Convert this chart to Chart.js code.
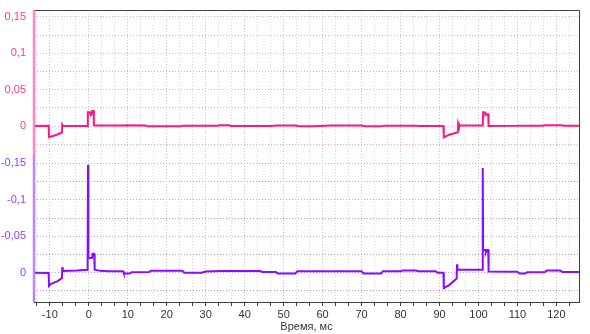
<!DOCTYPE html>
<html>
<head>
<meta charset="utf-8">
<script src="https://cdn.jsdelivr.net/npm/chart.js@4.4.0/dist/chart.umd.min.js"></script>
<style>
    html, body { margin: 0; padding: 0; background: #fff; }
    #wrap { width: 590px; height: 334px; }
</style>
</head>
<body>
<div id="wrap"><canvas id="chart"></canvas></div>
<script>
// Time axis (ms) and values
const pinkTime = [-14, -10.3, -10.2, -9.6, -8.2, -6.9, -6.8, -6.6, -3, -0.3, -0.25, 0.3, 0.5, 0.7, 0.9, 1.25, 1.3, 2, 9, 9.5, 14.5, 15, 23.5, 24, 33, 33.5, 36, 36.5, 47, 48, 53, 54, 58, 62, 70, 71, 75, 76, 84, 85, 91.0, 91.1, 92.5, 94.7, 94.8, 95.0, 101.1, 101.2, 101.7, 101.8, 102.1, 102.5, 102.6, 110, 111, 116.5, 117, 121, 122, 125.8];
const pinkValue = [0, 0.0003, -0.0155, -0.0145, -0.012, -0.009, 0.002, 0.0003, 0, 0, 0.019, 0.019, 0.015, 0.016, 0.021, 0.021, 0.001, 0.0008, 0.0008, 0.001, 0.0008, -0.0005, -0.0005, 0.0002, 0.0002, 0.001, 0.001, 0, 0, 0.0008, 0.0008, -0.0003, -0.0003, 0.0006, 0.0006, -0.0004, -0.0004, 0.0005, 0.0005, 0, 0, -0.0156, -0.012, -0.0087, 0.004, 0.0008, 0.0008, 0.0189, 0.0185, 0.015, 0.016, 0.016, 0, 0.0003, 0.0005, 0.0005, 0.0012, 0.0012, 0.0002, 0.0003];

const purpleTime = [-14, -10.3, -10.2, -9.8, -8, -6.9, -6.8, -6.7, -3, -0.3, -0.2, -0.1, 0.8, 1.0, 1.4, 1.5, 3, 5, 8.8, 9, 10.5, 11, 15.5, 16, 24, 24.5, 29, 30, 34, 44, 44.5, 48, 48.5, 53, 53.5, 70, 70.5, 75, 75.5, 80, 80.5, 84, 84.5, 89, 89.5, 91.0, 91.1, 92.5, 94.4, 94.5, 94.6, 101.0, 101.1, 101.2, 101.8, 101.9, 102.1, 102.5, 102.6, 110, 110.5, 112, 112.5, 117, 117.5, 121, 121.5, 125.8];
const purpleValue = [0, 0.0003, 0.018, 0.0155, 0.0115, 0.0075, -0.0075, -0.0025, -0.003, -0.004, -0.148, -0.02, -0.02, -0.026, -0.026, -0.004, -0.0025, -0.002, -0.002, 0.001, 0.001, -0.0005, -0.001, -0.0027, -0.0027, 0, 0, -0.0015, -0.0023, -0.0023, -0.001, -0.001, 0.001, 0.001, -0.002, -0.002, 0.001, 0.001, -0.002, -0.002, -0.003, -0.003, -0.002, -0.002, 0, 0, 0.021, 0.017, 0.008, -0.0115, -0.004, -0.004, -0.1435, -0.031, -0.031, -0.028, -0.031, -0.031, -0.0015, -0.0013, 0.001, 0.001, -0.0005, -0.0005, -0.003, -0.003, -0.0008, -0.0008];

// Tick values
const xTicks = [];
for (let k = -4; k <= 37; k++) xTicks.push(k * 10 / 3);
const topTicks = [-0.025, 0, 0.025, 0.05, 0.075, 0.1, 0.125, 0.15];
const bottomTicks = [-0.15, -0.125, -0.1, -0.075, -0.05, -0.025, 0, 0.025];

const xTitle = 'Время, мс';

function isMultiple(v, step) {
    return Math.abs(v / step - Math.round(v / step)) < 1e-6;
}

function commaLabel(v) {
    if (Math.abs(v) < 1e-9) return '0';
    return String(Math.round(v * 1000) / 1000).replace('.', ',');
}

function toPoints(times, values) {
    return times.map((t, i) => ({ x: t, y: values[i] }));
}

// fixed width, and no extra room asked for the end labels
function fitY(axis) {
    axis.width = 34;
    axis.paddingTop = 0;
    axis.paddingBottom = 0;
}

// Dark frame on top and right, coloured left axis line for each panel
const framePlugin = {
    id: 'frame',
    afterDraw(chart) {
        const { ctx, chartArea, scales } = chart;
        ctx.save();
        ctx.strokeStyle = '#404040';
        ctx.lineWidth = 1;
        ctx.beginPath();
        ctx.moveTo(chartArea.left, chartArea.top + 0.5);
        ctx.lineTo(chartArea.right + 0.5, chartArea.top + 0.5);
        ctx.lineTo(chartArea.right + 0.5, chartArea.bottom);
        ctx.stroke();

        ctx.lineWidth = 2.5;
        [['yTop', '#ff86c2'], ['yBottom', '#bc86ff']].forEach(([id, color]) => {
            const s = scales[id];
            ctx.strokeStyle = color;
            ctx.beginPath();
            ctx.moveTo(chartArea.left, s.top);
            ctx.lineTo(chartArea.left, s.bottom);
            ctx.stroke();
        });
        ctx.restore();
    }
};

const tickFont = { family: 'Liberation Sans, Arial, sans-serif', size: 11 };

const chart = new Chart(document.getElementById('chart').getContext('2d'), {
    type: 'line',
    data: {
        datasets: [{
            data: toPoints(pinkTime, pinkValue),
            yAxisID: 'yTop',
            borderColor: '#ff1682',
            borderWidth: 2,
            pointRadius: 0,
            tension: 0
        }, {
            data: toPoints(purpleTime, purpleValue),
            yAxisID: 'yBottom',
            borderColor: '#880cff',
            borderWidth: 2,
            pointRadius: 0,
            tension: 0
        }]
    },
    options: {
        responsive: true,
        maintainAspectRatio: false,
        animation: false,
        layout: { padding: { top: 10, right: 11, left: 0, bottom: 0 } },
        plugins: {
            legend: { display: false },
            tooltip: { enabled: false }
        },
        scales: {
            x: {
                type: 'linear',
                min: -14.06,
                max: 125.8,
                afterBuildTicks: (axis) => { axis.ticks = xTicks.map(v => ({ value: v })); },
                afterFit: (axis) => { axis.height = 32; },
                ticks: {
                    autoSkip: false,
                    maxRotation: 0,
                    padding: 2,
                    color: '#333',
                    font: tickFont,
                    callback: (v) => isMultiple(v, 10) ? String(Math.round(v)) : ''
                },
                grid: {
                    color: (c) => isMultiple(c.tick.value, 10) ? '#c4c4c4' : '#d8d8d8',
                    tickColor: '#404040',
                    tickLength: 4,
                    tickBorderDash: []
                },
                border: { color: '#404040', width: 1, dash: [1, 2] },
                title: {
                    display: true,
                    text: xTitle,
                    color: '#333',
                    font: tickFont,
                    padding: { top: 0, bottom: 0 }
                }
            },
            yBottom: {
                type: 'linear',
                position: 'left',
                stack: 'panels',
                stackWeight: 147,
                reverse: true,
                min: -0.1614,
                max: 0.0402,
                afterBuildTicks: (axis) => { axis.ticks = bottomTicks.map(v => ({ value: v })); },
                afterFit: fitY,
                ticks: {
                    autoSkip: false,
                    padding: 8,
                    color: '#9a3cff',
                    font: tickFont,
                    callback: (v) => isMultiple(v, 0.05) ? commaLabel(v) : ''
                },
                grid: {
                    drawTicks: false,
                    color: (c) => isMultiple(c.tick.value, 0.05) ? '#c99cff' : '#c28cff'
                },
                border: { display: false, dash: [1, 2] }
            },
            yTop: {
                type: 'linear',
                position: 'left',
                stack: 'panels',
                stackWeight: 145,
                min: -0.0399,
                max: 0.1596,
                afterBuildTicks: (axis) => { axis.ticks = topTicks.map(v => ({ value: v })); },
                afterFit: fitY,
                ticks: {
                    autoSkip: false,
                    padding: 8,
                    color: '#ff3898',
                    font: tickFont,
                    callback: (v) => isMultiple(v, 0.05) ? commaLabel(v) : ''
                },
                grid: {
                    drawTicks: false,
                    color: (c) => isMultiple(c.tick.value, 0.05) ? '#ffa8d4' : '#ff9ccc'
                },
                border: { display: false, dash: [1, 2] }
            }
        }
    },
    plugins: [framePlugin]
});
</script>
</body>
</html>
